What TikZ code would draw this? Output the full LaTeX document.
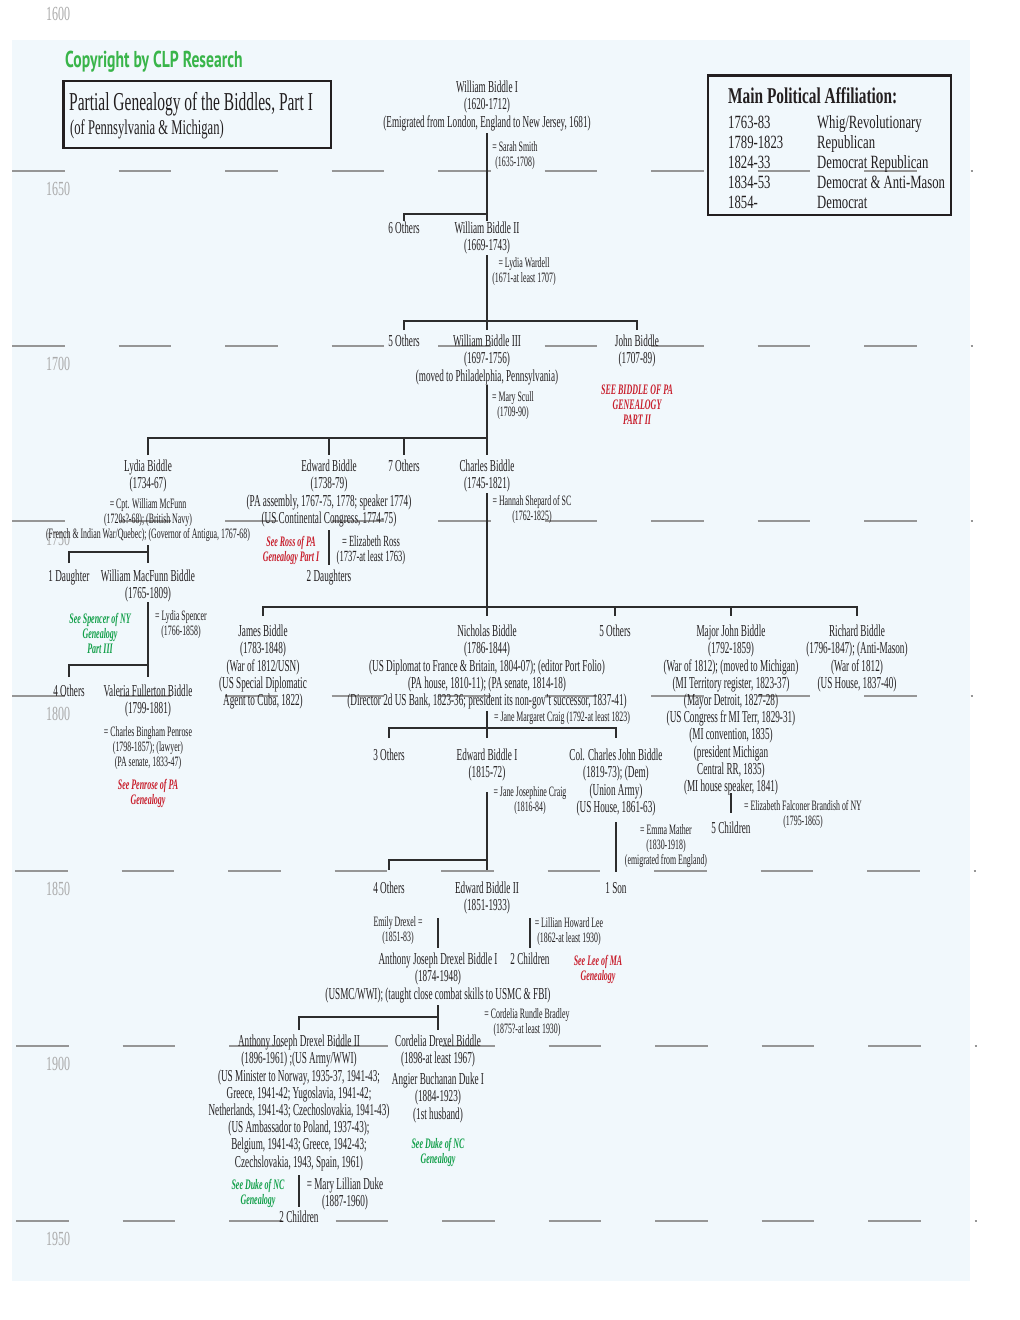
\documentclass[tikz,border=0pt]{standalone}
\usepackage{fontspec}
\setmainfont{Liberation Serif}[FakeStretch=0.55]
\newfontfamily\titlefont{Liberation Serif}[FakeStretch=0.6]
\newfontfamily\boxfont{Liberation Serif}[FakeStretch=0.68]
\newfontfamily\cpfont{PT Sans}[FakeStretch=0.68]
\definecolor{bgc}{RGB}{241,248,252}
\definecolor{linec}{RGB}{45,45,45}
\definecolor{txtc}{RGB}{35,31,32}
\definecolor{redc}{RGB}{200,32,46}
\definecolor{grnc}{RGB}{20,160,75}
\definecolor{cpc}{RGB}{57,181,74}
\definecolor{yrc}{RGB}{170,170,170}
\definecolor{dashc}{RGB}{150,150,150}
\newcommand\fMain{\fontsize{16.7}{17.2}\selectfont}
\newcommand\fMid{\fontsize{15.5}{15.5}\selectfont}
\newcommand\fSmall{\fontsize{14.3}{15}\selectfont}
\newcommand\fRef{\fontsize{14.5}{15.2}\selectfont\bfseries\itshape}
\begin{document}
\begin{tikzpicture}[x=1pt,y=-1pt,
 tbase/.style={anchor=north,inner sep=0pt,align=center,text=txtc},
 tx/.style={tbase,font=\fMain,yshift=6.5pt},
 md/.style={tbase,font=\fMid,yshift=5.6pt},
 sm/.style={tbase,font=\fSmall,yshift=5.6pt},
 rf/.style={tbase,font=\fRef,text=redc,yshift=5.6pt},
 gf/.style={tbase,font=\fRef,text=grnc,yshift=5.6pt},
 ln/.style={draw=linec,line width=2pt},
 dl/.style={draw=dashc,line width=1.3pt,dash pattern=on 52.5pt off 54pt},
 yr/.style={anchor=base,inner sep=0pt,font=\titlefont\fontsize{20}{22}\selectfont,text=yrc},
 bx/.style={draw=txtc,line width=2.7pt},
 bt/.style={anchor=base west,inner sep=0pt,text=txtc,font=\boxfont\fontsize{18.7}{20}\selectfont}]
\useasboundingbox (0,0) rectangle (1020,1320);
\fill[bgc] (12,40) rectangle (970,1281);
\foreach \yy/\xs in {171/12,346/12,521/12,696/12,871/15,1046/16,1221/16}{\draw[dl] (\xs,\yy) -- ++(961,0);}
\foreach \lab/\yy in {1600/20,1650/195,1700/370,1750/545,1800/720,1850/895,1900/1070,1950/1245}{\node[yr] (y\lab) at (58,\yy) {\lab};}

% header
\node[anchor=base west,inner sep=0pt,font=\cpfont\bfseries\fontsize{23}{25}\selectfont,text=cpc] (copy) at (65,67) {Copyright by CLP Research};
\draw[bx] (63.5,81) rectangle (331,148);
\node[anchor=base west,inner sep=0pt,font=\titlefont\fontsize{25.8}{28}\selectfont,text=txtc] (title) at (69,110.5) {Partial Genealogy of the Biddles, Part I};
\node[anchor=base west,inner sep=0pt,font=\titlefont\fontsize{21}{23}\selectfont,text=txtc] (subtitle) at (70,134) {(of Pennsylvania \& Michigan)};
\draw[bx] (708,75.5) rectangle (951,215);
\node[bt,font=\boxfont\bfseries\fontsize{22.6}{24}\selectfont] (pahead) at (728,103) {Main Political Affiliation:};
\node[bt] (pa1) at (728,128.5) {1763-83};
\node[bt] (pb1) at (817,128.5) {Whig/Revolutionary};
\node[bt] (pa2) at (728,148.5) {1789-1823};
\node[bt] (pb2) at (817,148.5) {Republican};
\node[bt] (pa3) at (728,168.5) {1824-33};
\node[bt] (pb3) at (817,168.5) {Democrat Republican};
\node[bt] (pa4) at (728,188.5) {1834-53};
\node[bt] (pb4) at (817,188.5) {Democrat \& Anti-Mason};
\node[bt] (pa5) at (728,208.5) {1854-};
\node[bt] (pb5) at (817,208.5) {Democrat};

% generations
\node[tx] (wb1) at (487,87) {\strut William Biddle I\\(1620-1712)\\(Emigrated from London, England to New Jersey, 1681)};
\node[sm] (wb1s) at (515,146) {\strut = Sarah Smith\\(1635-1708)};
\node[tx] (oth6) at (404,228) {\strut 6 Others};
\node[tx] (wb2) at (487,228) {\strut William Biddle II\\(1669-1743)};
\node[sm] (wb2s) at (524,262) {\strut = Lydia Wardell\\(1671-at least 1707)};
\node[tx] (oth5) at (404,341) {\strut 5 Others};
\node[tx] (wb3) at (487,341) {\strut William Biddle III\\(1697-1756)\\(moved to Philadelphia, Pennsylvania)};
\node[tx] (jb) at (637,341) {\strut John Biddle\\(1707-89)};
\node[rf] (jbref) at (637,389) {\strut SEE BIDDLE OF PA\\GENEALOGY\\PART II};
\node[sm] (wb3s) at (513,396) {\strut = Mary Scull\\(1709-90)};

\node[tx] (lydia) at (148,466) {\strut Lydia Biddle\\(1734-67)};
\node[sm] (lydias) at (148,503) {\strut = Cpt. William McFunn\\(1720s?-68); (British Navy)\\(French \& Indian War/Quebec); (Governor of Antigua, 1767-68)};
\node[tx] (edw) at (329,466) {\strut Edward Biddle\\(1738-79)\\(PA assembly, 1767-75, 1778; speaker 1774)\\(US Continental Congress, 1774-75)};
\node[rf] (edwref) at (291,541) {\strut See Ross of PA\\Genealogy Part I};
\node[md] (edws) at (371,541) {\strut = Elizabeth Ross\\(1737-at least 1763)};
\node[tx] (oth7) at (404,466) {\strut 7 Others};
\node[tx] (charles) at (487,466) {\strut Charles Biddle\\(1745-1821)};
\node[sm] (charless) at (532,500) {\strut = Hannah Shepard of SC\\(1762-1825)};

\node[tx] (dau1) at (69,576) {\strut 1 Daughter};
\node[tx] (wmb) at (148,576) {\strut William MacFunn Biddle\\(1765-1809)};
\node[tx] (dau2) at (329,576) {\strut 2 Daughters};
\node[gf] (wmbref) at (100,618) {\strut See Spencer of NY\\Genealogy\\Part III};
\node[sm] (wmbs) at (181,615) {\strut = Lydia Spencer\\(1766-1858)};
\node[tx] (oth4) at (69,691) {\strut 4 Others};
\node[tx] (vfb) at (148,691) {\strut Valeria Fullerton Biddle\\(1799-1881)};
\node[sm] (vfbs) at (148,731) {\strut = Charles Bingham Penrose\\(1798-1857); (lawyer)\\(PA senate, 1833-47)};
\node[rf] (vfbref) at (148,784) {\strut See Penrose of PA\\Genealogy};

\node[tx] (james) at (263,631) {\strut James Biddle\\(1783-1848)\\(War of 1812/USN)\\(US Special Diplomatic\\Agent to Cuba, 1822)};
\node[tx] (nich) at (487,631) {\strut Nicholas Biddle\\(1786-1844)\\(US Diplomat to France \& Britain, 1804-07); (editor Port Folio)\\(PA house, 1810-11); (PA senate, 1814-18)\\(Director 2d US Bank, 1823-36; president its non-gov't successor, 1837-41)};
\node[sm] (nichs) at (562,716) {\strut = Jane Margaret Craig (1792-at least 1823)};
\node[tx] (oth5b) at (615,631) {\strut 5 Others};
\node[tx] (mjb) at (731,631) {\strut Major John Biddle\\(1792-1859)\\(War of 1812); (moved to Michigan)\\(MI Territory register, 1823-37)\\(Mayor Detroit, 1827-28)\\(US Congress fr MI Terr, 1829-31)\\(MI convention, 1835)\\(president Michigan\\Central RR, 1835)\\(MI house speaker, 1841)};
\node[tx] (rich) at (857,631) {\strut Richard Biddle\\(1796-1847); (Anti-Mason)\\(War of 1812)\\(US House, 1837-40)};

\node[tx] (oth3) at (389,755) {\strut 3 Others};
\node[tx] (eb1) at (487,755) {\strut Edward Biddle I\\(1815-72)};
\node[sm] (eb1s) at (530,791) {\strut = Jane Josephine Craig\\(1816-84)};
\node[tx] (ccjb) at (616,755) {\strut Col. Charles John Biddle\\(1819-73); (Dem)\\(Union Army)\\(US House, 1861-63)};
\node[sm] (ccjbs) at (666,829) {\strut = Emma Mather\\(1830-1918)\\(emigrated from England)};
\node[sm] (mjbs) at (803,805) {\strut = Elizabeth Falconer Brandish of NY\\(1795-1865)};
\node[tx] (chil5) at (731,828) {\strut 5 Children};

\node[tx] (oth4b) at (389,888) {\strut 4 Others};
\node[tx] (eb2) at (487,888) {\strut Edward Biddle II\\(1851-1933)};
\node[tx] (son1) at (616,888) {\strut 1 Son};
\node[sm] (emily) at (398,921) {\strut Emily Drexel =\\(1851-83)};
\node[sm] (eb2s) at (569,922) {\strut = Lillian Howard Lee\\(1862-at least 1930)};
\node[tx] (ajdb1) at (438,959) {\strut Anthony Joseph Drexel Biddle I\\(1874-1948)\\(USMC/WWI); (taught close combat skills to USMC \& FBI)};
\node[tx] (chil2) at (530,959) {\strut 2 Children};
\node[rf] (leeref) at (598,960) {\strut See Lee of MA\\Genealogy};
\node[sm] (ajdb1s) at (527,1013) {\strut = Cordelia Rundle Bradley\\(1875?-at least 1930)};

\node[tx] (ajdb2) at (299,1041) {\strut Anthony Joseph Drexel Biddle II\\(1896-1961) ;(US Army/WWI)\\(US Minister to Norway, 1935-37, 1941-43;\\Greece, 1941-42; Yugoslavia, 1941-42;\\Netherlands, 1941-43; Czechoslovakia, 1941-43)\\(US Ambassador to Poland, 1937-43);\\Belgium, 1941-43; Greece, 1942-43;\\Czechslovakia, 1943, Spain, 1961)};
\node[tx] (cdb) at (438,1041) {\strut Cordelia Drexel Biddle\\(1898-at least 1967)};
\node[tx] (abd) at (438,1079) {\strut Angier Buchanan Duke I\\(1884-1923)\\(1st husband)};
\node[gf] (dukeref1) at (438,1143) {\strut See Duke of NC\\Genealogy};
\node[gf] (dukeref2) at (258,1184) {\strut See Duke of NC\\Genealogy};
\node[tx] (ajdb2s) at (345,1184) {\strut = Mary Lillian Duke\\(1887-1960)};
\node[tx] (chil2b) at (299,1217) {\strut 2 Children};

% connectors
\draw[ln] (wb1.south |- 0,133) -- (wb2.north |- 0,221);
\draw[ln] (oth6.north |- 0,221) |- (wb2.north |- 0,214);
\draw[ln] (wb2.south |- 0,255) -- (wb3.north |- 0,330);
\draw[ln] (oth5.north |- 0,330) |- (jb.north |- 0,321) -- (jb.north |- 0,330);
\draw[ln] (wb3.south |- 0,385) -- (charles.north |- 0,455);
\draw[ln] (lydia.north |- 0,455) |- (charles.north |- 0,438);
\draw[ln] (edw.north |- 0,438) -- (edw.north |- 0,455);
\draw[ln] (oth7.north |- 0,438) -- (oth7.north |- 0,455);
\draw[ln] (lydias.south |- 0,545) -- (wmb.north |- 0,563);
\draw[ln] (dau1.north |- 0,563) |- (wmb.north |- 0,552);
\draw[ln] (edw.south |- 0,530) -- (dau2.north |- 0,565);
\draw[ln] (charles.south |- 0,493) -- (nich.north |- 0,616);
\draw[ln] (james.north |- 0,616) |- (rich.north |- 0,607) -- (rich.north |- 0,616);
\draw[ln] (oth5b.north |- 0,607) -- (oth5b.north |- 0,616);
\draw[ln] (mjb.north |- 0,607) -- (mjb.north |- 0,616);
\draw[ln] (wmb.south |- 0,602) -- (vfb.north |- 0,677);
\draw[ln] (oth4.north |- 0,677) |- (vfb.north |- 0,665);
\draw[ln] (nich.south |- 0,711) -- (eb1.north |- 0,738);
\draw[ln] (oth3.north |- 0,738) |- (ccjb.north |- 0,728) -- (ccjb.north |- 0,738);
\draw[ln] (eb1.south |- 0,792) -- (eb2.north |- 0,870);
\draw[ln] (oth4b.north |- 0,870) |- (eb2.north |- 0,860);
\draw[ln] (ccjb.south |- 0,822) -- (son1.north |- 0,872);
\draw[ln] (mjb.south |- 0,793) -- (chil5.north |- 0,813);
\draw[ln] (ajdb1.north |- 0,918) -- (ajdb1.north |- 0,948);
\draw[ln] (chil2.north |- 0,918) -- (chil2.north |- 0,948);
\draw[ln] (ajdb1.south |- 0,1005) -- (cdb.north |- 0,1030);
\draw[ln] (ajdb2.north |- 0,1030) |- (cdb.north |- 0,1017);
\draw[ln] (ajdb2.south |- 0,1175) -- (chil2b.north |- 0,1207);
\end{tikzpicture}
\end{document}
